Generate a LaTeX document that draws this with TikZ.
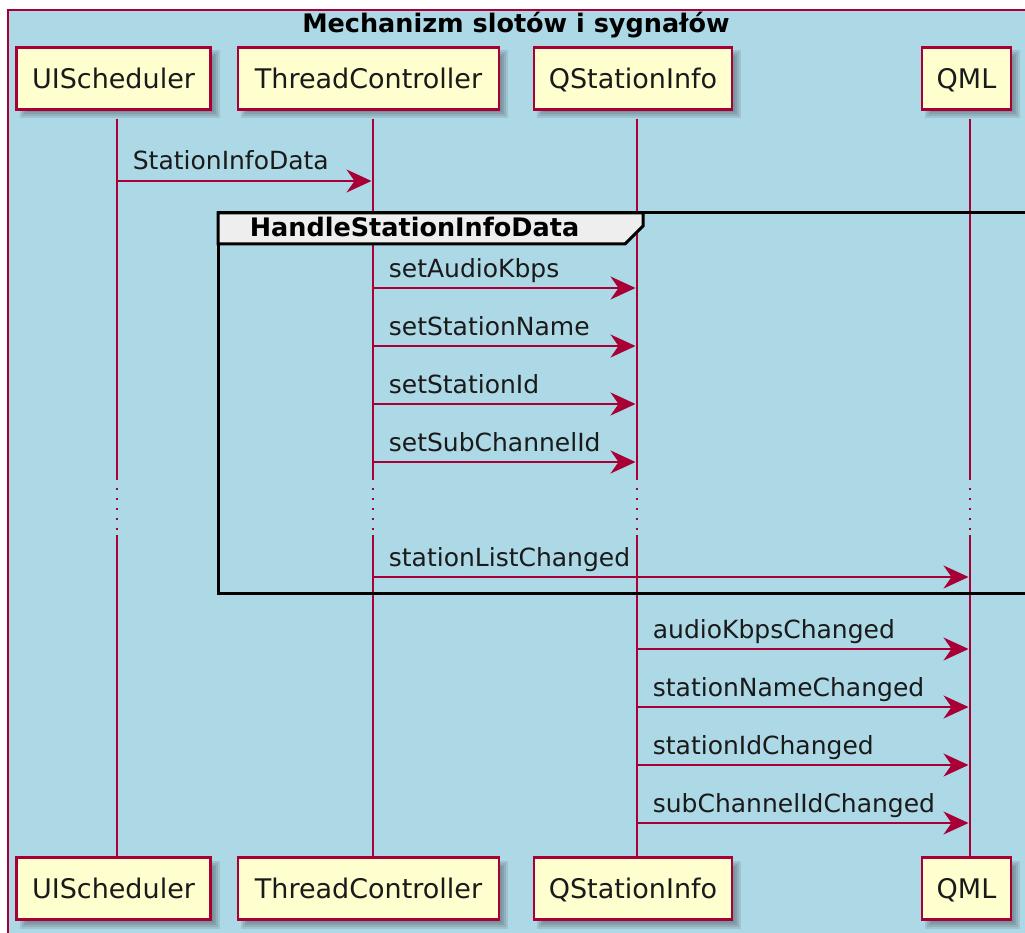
\documentclass[tikz,border=0pt]{standalone}
\usepackage{fontspec}
\setmainfont{DejaVu Sans}
\usetikzlibrary{arrows.meta}

\definecolor{plborder}{HTML}{A80036}
\definecolor{plfill}{HTML}{FEFECE}
\definecolor{plbg}{HTML}{ADD8E6}
\definecolor{pltab}{HTML}{EEEEEE}
\definecolor{pltext}{HTML}{1A1A1A}

\tikzset{
  part/.style={draw=plborder, line width=2.2pt, fill=plfill, minimum height=62pt,
    inner sep=0pt, text height=19.7pt, text depth=0pt, text=pltext,
    font=\fontsize{27}{32}\selectfont},
  life/.style={draw=plborder, line width=1.8pt},
  lifedots/.style={draw=plborder, line width=1.8pt, dash pattern=on 2pt off 8pt},
  msg/.style={draw=plborder, line width=1.7pt,
    -{Stealth[length=25pt,width=23pt,inset=8pt]}, shorten >=1.5pt},
  msglabel/.style={font=\fontsize{25}{30}\selectfont, text=pltext, inner sep=0pt,
    anchor=base west},
  boldlabel/.style={font=\bfseries\fontsize{25.5}{30}\selectfont, inner sep=0pt, anchor=base},
  framebox/.style={draw=black, line width=3pt},
}

% soft shadow behind a participant box: cx, cy, width, height
\newcommand\pshadow[4]{%
  \foreach \s in {0,2,4,6}{%
    \fill[black!80, opacity=0.12]
      (#1-#3/2+9-\s, #2-#4/2+9-\s) rectangle (#1+#3/2+3+\s, #2+#4/2+3+\s);
  }}
% participant box with its shadow: name, cx, cy, width, text
\newcommand\participant[5]{%
  \pshadow{#2}{#3}{#4}{62}%
  \node[part, minimum width=#4pt] (#1) at (#2,#3) {#5};}
% message between two lifelines at height y
\newcommand\sendmsg[4]{%
  \draw[msg] (#1 |- 0,#3) -- (#2 |- 0,#3)
    node[pos=0, msglabel, xshift=15pt, yshift=11pt] {#4};}

\begin{document}
\begin{tikzpicture}[x=1pt, y=-1pt]
  \useasboundingbox (0,0) rectangle (1025,933);
  \clip (0,0) rectangle (1025,933);
  \fill[white] (0,0) rectangle (1025,933);

  % enclosing box with its title
  \draw[draw=plborder, line width=1.6pt, fill=plbg] (8,10) rectangle (1045,950);
  \node[boldlabel] (title) at (516,33) {Mechanizm slotów i sygnałów};

  % lifeline positions
  \coordinate (uis-x) at (117,0);
  \coordinate (tc-x) at (373,0);
  \coordinate (qsi-x) at (637,0);
  \coordinate (qml-x) at (970,0);

  % participants, top and bottom
  \participant{uis-top}{113.5}{78.5}{194}{UIScheduler}
  \participant{tc-top}{368.5}{78.5}{261}{ThreadController}
  \participant{qsi-top}{633}{78.5}{198}{QStationInfo}
  \participant{qml-top}{966.5}{78.5}{89}{QML}
  \participant{uis-bot}{113.5}{888.5}{194}{UIScheduler}
  \participant{tc-bot}{368.5}{888.5}{261}{ThreadController}
  \participant{qsi-bot}{633}{888.5}{198}{QStationInfo}
  \participant{qml-bot}{966.5}{888.5}{89}{QML}

  % lifelines, interrupted by a delay
  \foreach \p in {uis,tc,qsi,qml}{
    \draw[life] ([yshift=-8pt]\p-top.south -| \p-x) -- (\p-x |- 0,480);
    \draw[lifedots] (\p-x |- 0,488) -- (\p-x |- 0,532);
    \draw[life] (\p-x |- 0,535) -- (\p-bot.north -| \p-x);
  }

  % group frame
  \draw[framebox] (218,213) rectangle (1045,593);
  \filldraw[framebox, fill=pltab, line join=miter]
    (218,213) -- (643,213) -- (643,226) -- (625,244) -- (218,244) -- cycle;
  \node[boldlabel] (grp) at (414.5,237) {HandleStationInfoData};

  % messages
  \sendmsg{uis-x}{tc-x}{181}{StationInfoData}
  \sendmsg{tc-x}{qsi-x}{288}{setAudioKbps}
  \sendmsg{tc-x}{qsi-x}{346}{setStationName}
  \sendmsg{tc-x}{qsi-x}{404}{setStationId}
  \sendmsg{tc-x}{qsi-x}{462}{setSubChannelId}
  \sendmsg{tc-x}{qml-x}{577}{stationListChanged}
  \sendmsg{qsi-x}{qml-x}{649}{audioKbpsChanged}
  \sendmsg{qsi-x}{qml-x}{707}{stationNameChanged}
  \sendmsg{qsi-x}{qml-x}{765}{stationIdChanged}
  \sendmsg{qsi-x}{qml-x}{823}{subChannelIdChanged}
\end{tikzpicture}
\end{document}
